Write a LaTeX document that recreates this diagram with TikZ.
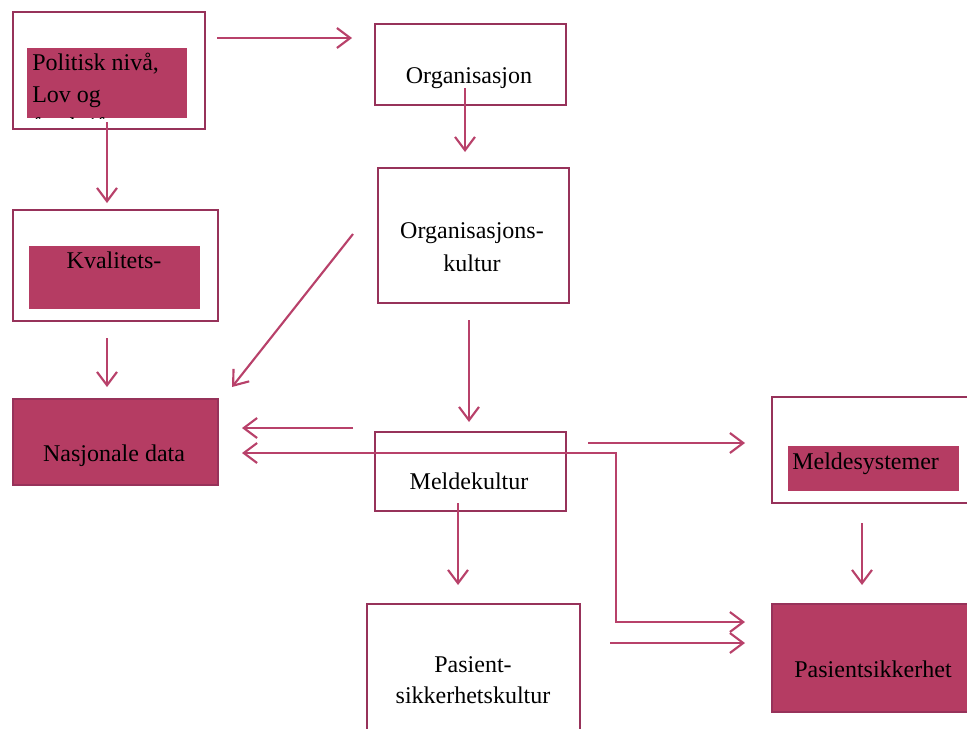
\documentclass[tikz,border=0pt]{standalone}
\usepackage{fontspec}
\setmainfont{Liberation Serif}
\usetikzlibrary{arrows.meta}
\definecolor{boxline}{HTML}{97325A}
\definecolor{boxfill}{HTML}{B53C63}
\definecolor{arrowcol}{HTML}{B8416A}
\tikzset{
  frame/.style={draw=boxline, line width=1.6pt, fill=white, inner sep=0pt, anchor=north west},
  solidbox/.style={draw=boxline, line width=1.6pt, fill=boxfill, inner sep=0pt, anchor=north west},
  patch/.style={fill=boxfill, draw=none, inner sep=0pt, anchor=north west},
  txt/.style={font=\fontsize{18}{24}\selectfont, inner sep=0pt, text=black},
  flow/.style={draw=arrowcol, line width=1.6pt, -{Straight Barb[length=10pt,width=15pt]}},
  twoway/.style={draw=arrowcol, line width=1.6pt,
    {Straight Barb[length=10pt,width=15pt]}-{Straight Barb[length=10pt,width=15pt]}},
}
\begin{document}
\begin{tikzpicture}[x=0.75pt,y=-0.75pt]
\useasboundingbox (0,0) rectangle (967,728);

% boxes
\node[frame, minimum width=144pt, minimum height=87.75pt] (pol) at (12,11) {};
\node[patch, minimum width=120pt, minimum height=52.5pt] (polin) at (27,48) {};
\node[frame, minimum width=143.25pt, minimum height=60.75pt] (org) at (374,23) {};
\node[frame, minimum width=143.25pt, minimum height=101.25pt] (okult) at (377,167) {};
\node[frame, minimum width=153.75pt, minimum height=83.25pt] (kval) at (12,209) {};
\node[patch, minimum width=128.25pt, minimum height=47.25pt] (kvalin) at (29,246) {};
\node[solidbox, minimum width=153.75pt, minimum height=64.5pt] (nasj) at (12,398) {};
\node[frame, minimum width=143.25pt, minimum height=59.25pt] (meld) at (374,431) {};
\node[frame, minimum width=156pt, minimum height=79.5pt] (mds) at (771,396) {};
\node[patch, minimum width=128.25pt, minimum height=33.75pt] (mdsin) at (788,446) {};
\node[frame, minimum width=159.75pt, minimum height=112.5pt] (pkult) at (366,603) {};
\node[solidbox, minimum width=156pt, minimum height=81pt] (psik) at (771,603) {};

% labels
\begin{scope}
  \clip (polin.north west) rectangle (polin.south east);
  \node[txt, anchor=base west] (tpol1) at (32,70) {Politisk nivå,};
  \node[txt, anchor=base west] (tpol2) at (32,102) {Lov og};
  \node[txt, anchor=base west] (tpol3) at (32,134) {forskrift};
\end{scope}
\node[txt, anchor=base] (torg) at (469,83) {Organisasjon};
\node[txt, anchor=base] (tokult1) at (472,238) {Organisasjons-};
\node[txt, anchor=base] (tokult2) at (472,271) {kultur};
\node[txt, anchor=base] (tkval) at (114,268) {Kvalitets-};
\node[txt, anchor=base] (tnasj) at (114,461) {Nasjonale data};
\node[txt, anchor=base] (tmeld) at (469,489) {Meldekultur};
\node[txt, anchor=base west] (tmds) at (792,469) {Meldesystemer};
\node[txt, anchor=base] (tpsik) at (873,677) {Pasientsikkerhet};
\node[txt, anchor=base] (tpk1) at (473,672) {Pasient-};
\node[txt, anchor=base] (tpk2) at (473,703) {sikkerhetskultur};

% arrow end points
\coordinate (a1s) at (217,38);  \coordinate (a1e) at (352,38);
\coordinate (a2s) at (465,88);  \coordinate (a2e) at (465,152);
\coordinate (a3s) at (107,122); \coordinate (a3e) at (107,203);
\coordinate (a4s) at (107,338); \coordinate (a4e) at (107,387);
\coordinate (a5s) at (353,234); \coordinate (a5e) at (232,387);
\coordinate (a6s) at (469,320); \coordinate (a6e) at (469,422);
\coordinate (a7s) at (353,428); \coordinate (a7e) at (242,428);
\coordinate (a8a) at (242,453); \coordinate (a8k) at (616,453);
\coordinate (a8b) at (745,622);
\coordinate (a9s) at (588,443); \coordinate (a9e) at (745,443);
\coordinate (a10s) at (458,503); \coordinate (a10e) at (458,585);
\coordinate (a11s) at (862,523); \coordinate (a11e) at (862,585);
\coordinate (a12s) at (610,643); \coordinate (a12e) at (745,643);

% connectors
\draw[flow] (a1s) -- (a1e);
\draw[flow] (a2s) -- (a2e);
\draw[flow] (a3s) -- (a3e);
\draw[flow] (a4s) -- (a4e);
\draw[flow] (a5s) -- (a5e);
\draw[flow] (a6s) -- (a6e);
\draw[flow] (a7s) -- (a7e);
\draw[twoway] (a8a) -- (a8k) |- (a8b);
\draw[flow] (a9s) -- (a9e);
\draw[flow] (a10s) -- (a10e);
\draw[flow] (a11s) -- (a11e);
\draw[flow] (a12s) -- (a12e);
\end{tikzpicture}
\end{document}
